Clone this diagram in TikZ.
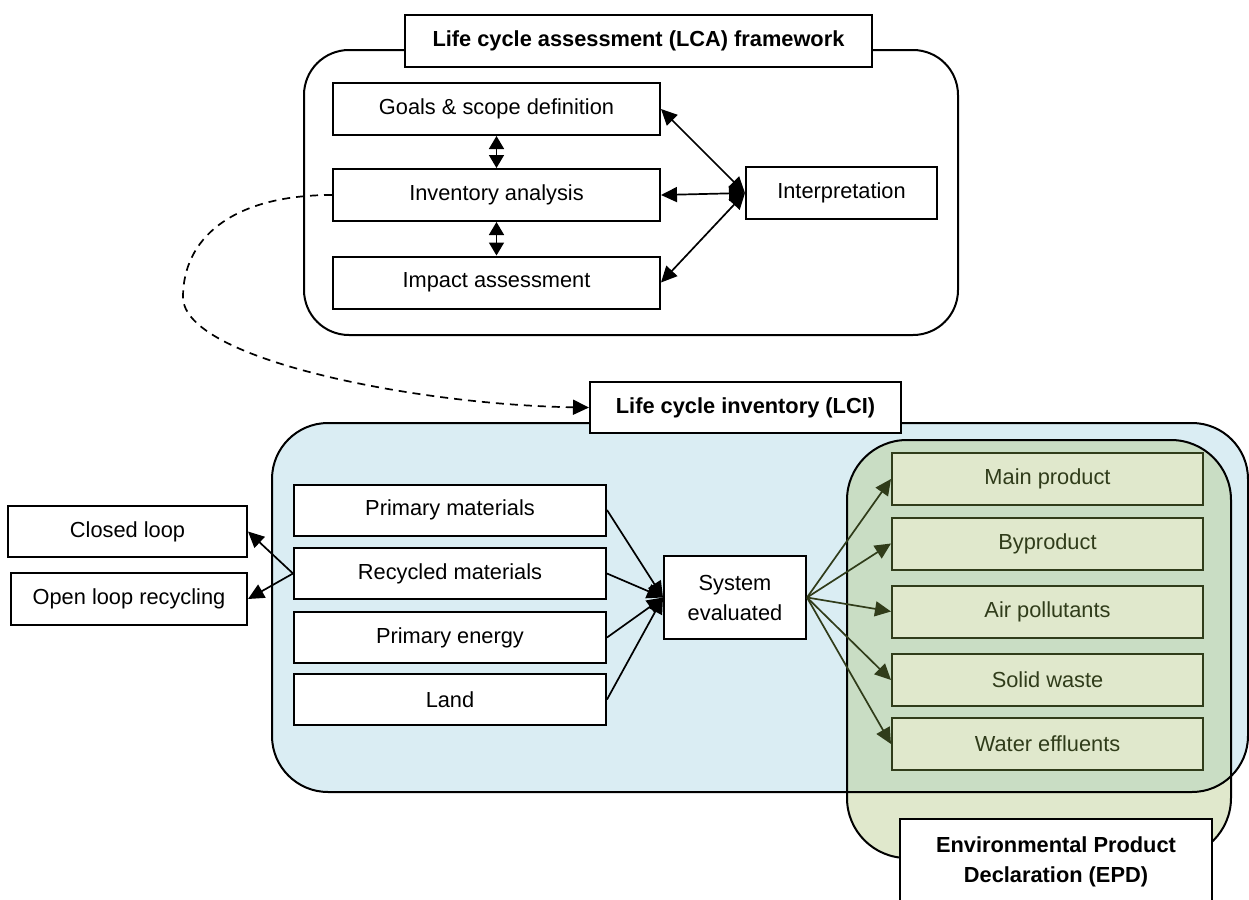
\documentclass[tikz,border=0pt]{standalone}
\usepackage{fontspec}
\setmainfont{Liberation Sans}
\usetikzlibrary{arrows.meta}
\definecolor{lciblue}{RGB}{218,237,243}
\definecolor{epdgreen}{RGB}{177,197,127}
\definecolor{outgreen}{RGB}{224,232,204}
\definecolor{darkolive}{RGB}{48,60,26}

\begin{document}
\begin{tikzpicture}[x=0.5pt,y=-0.5pt,
        font=\fontsize{10.9}{15}\selectfont,
        box/.style={draw,line width=1pt,fill=white,inner sep=0pt,minimum height=26pt,align=center},
        titlebox/.style={box,font=\fontsize{10.9}{15}\selectfont\bfseries},
        inbox/.style={box,minimum width=156pt,minimum height=25.5pt},
        outbox/.style={box,draw=darkolive,fill=outgreen,text=darkolive,minimum width=155.5pt},
        link/.style={line width=0.85pt,-{Triangle[length=8pt,width=7.5pt]}},
        both/.style={line width=0.85pt,{Triangle[length=8pt,width=7.5pt]}-{Triangle[length=8pt,width=7.5pt]}},
        stack/.style={line width=0.85pt,{Triangle[length=6.5pt,width=7.5pt]}-{Triangle[length=6.5pt,width=7.5pt]}}]

        \useasboundingbox (0,0) rectangle (1249,900);

        % LCA framework
        \draw[line width=1pt,rounded corners=22.5pt] (304,50) rectangle (958,335);
        \node[titlebox,minimum width=233.5pt] (lca) at (638.5,41) {Life cycle assessment (LCA) framework};
        \node[box,minimum width=163.5pt] (goals) at (496.5,109) {Goals \& scope definition};
        \node[box,minimum width=163.5pt] (inv) at (496.5,195) {Inventory analysis};
        \node[box,minimum width=163.5pt] (impact) at (496.5,282.5) {Impact assessment};
        \node[box,minimum width=95.5pt] (interp) at (841.5,193) {Interpretation};

        \draw[stack] (goals.south) -- (inv.north);
        \draw[stack] (inv.south) -- (impact.north);
        \foreach \b in {goals,inv,impact}
            \draw[both] (interp.west) -- (\b.east);

        % LCI and EPD
        \fill[lciblue,rounded corners=28pt] (272,423) rectangle (1248,792);
        \fill[epdgreen,fill opacity=0.4,rounded corners=30pt] (847,440) rectangle (1231,858);
        \draw[line width=1pt,rounded corners=28pt] (272,423) rectangle (1248,792);
        \draw[line width=1pt,rounded corners=30pt] (847,440) rectangle (1231,858);

        \node[titlebox,minimum width=155.5pt,minimum height=25.5pt] (lci) at (745.5,407.5) {Life cycle inventory (LCI)};
        \node[titlebox,minimum width=156pt,minimum height=43pt] (epd) at (1056,862) {Environmental Product\\Declaration (EPD)};

        \draw[link,dashed,dash pattern=on 4pt off 3pt] (inv.west) .. controls (230,195) and (183,240) .. (183,297)
            .. controls (183,360) and (420,405) .. (lci.west);

        \node[inbox] (primat) at (450,510) {Primary materials};
        \node[inbox] (recmat) at (450,573.5) {Recycled materials};
        \node[inbox] (primen) at (450,637.5) {Primary energy};
        \node[inbox] (land) at (450,699.5) {Land};
        \node[box,minimum width=71pt,minimum height=41.5pt] (sys) at (735,597.5) {System\\evaluated};

        \node[box,minimum width=119.5pt,minimum height=25.5pt] (closed) at (127.5,531.5) {Closed loop};
        \node[box,minimum width=118pt] (open) at (129,599) {Open loop recycling};

        \node[outbox] (main) at (1047.5,479) {Main product};
        \node[outbox] (byprod) at (1047.5,543.5) {Byproduct};
        \node[outbox] (air) at (1047.5,611.5) {Air pollutants};
        \node[outbox] (solid) at (1047.5,680) {Solid waste};
        \node[outbox] (water) at (1047.5,744) {Water effluents};

        \draw[link] (recmat.west) -- (closed.east);
        \draw[link] (recmat.west) -- (open.east);
        \foreach \b in {primat,recmat,primen,land}
            \draw[link] (\b.east) -- (sys.west);
        \foreach \b in {main,byprod,air,solid,water}
            \draw[link,darkolive] (sys.east) -- (\b.west);
      \end{tikzpicture}
\end{document}
